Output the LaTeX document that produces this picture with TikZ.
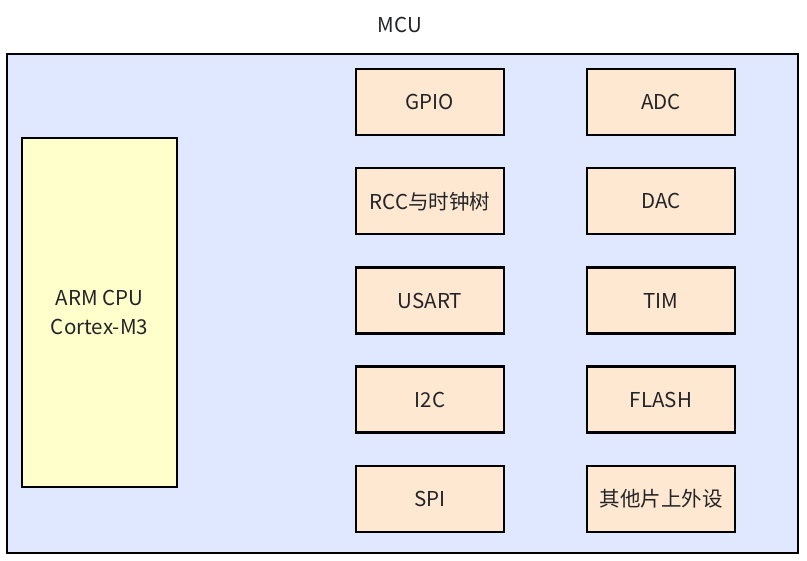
\documentclass[tikz,border=0pt]{standalone}
\usepackage{fontspec}
\setmainfont{Noto Sans CJK SC}
\usetikzlibrary{positioning}
\definecolor{mcublue}{RGB}{224,232,255}
\definecolor{cpuyellow}{RGB}{255,255,204}
\definecolor{perifill}{RGB}{255,232,209}
\definecolor{txtgray}{RGB}{34,36,40}
\tikzset{
  chip/.style  = {draw=black, line width=2.5pt, fill=mcublue, outer sep=0pt,
                  minimum width=791pt, minimum height=499pt},
  core/.style  = {draw=black, line width=2.5pt, fill=cpuyellow, outer sep=0pt,
                  minimum width=155pt, minimum height=349pt, align=center,
                  text=txtgray, font=\fontsize{20.5}{29}\selectfont},
  peri/.style  = {draw=black, line width=2.5pt, fill=perifill, outer sep=0pt,
                  minimum width=148pt, minimum height=66pt,
                  text=txtgray, font=\fontsize{20.5}{24}\selectfont},
  title/.style = {text=txtgray, font=\fontsize{20.5}{24}\selectfont},
}

\begin{document}
\begin{tikzpicture}[x=1pt, y=-1pt, node distance=33.25pt]
  \useasboundingbox (0,0) rectangle (807,561);
  % chip outline
  \node[chip] (mcu) at (402.5,303.5) {};
  \node[title] (mcutitle) at (400,25) {MCU};
  % core
  \node[core] (cpu) at (99.5,312.5) {ARM CPU\\Cortex-M3};
  % peripherals, left column
  \node[peri] (gpio) at (430,102) {GPIO};
  \node[peri, below=of gpio] (rcc) {RCC与时钟树};
  \node[peri, below=of rcc] (usart) {USART};
  \node[peri, below=of usart] (iic) {I2C};
  \node[peri, below=of iic] (spi) {SPI};
  % peripherals, right column
  \node[peri] (adc) at (661,102) {ADC};
  \node[peri, below=of adc] (dac) {DAC};
  \node[peri, below=of dac] (tim) {TIM};
  \node[peri, below=of tim] (flash) {FLASH};
  \node[peri, below=of flash] (other) {其他片上外设};
\end{tikzpicture}
\end{document}
